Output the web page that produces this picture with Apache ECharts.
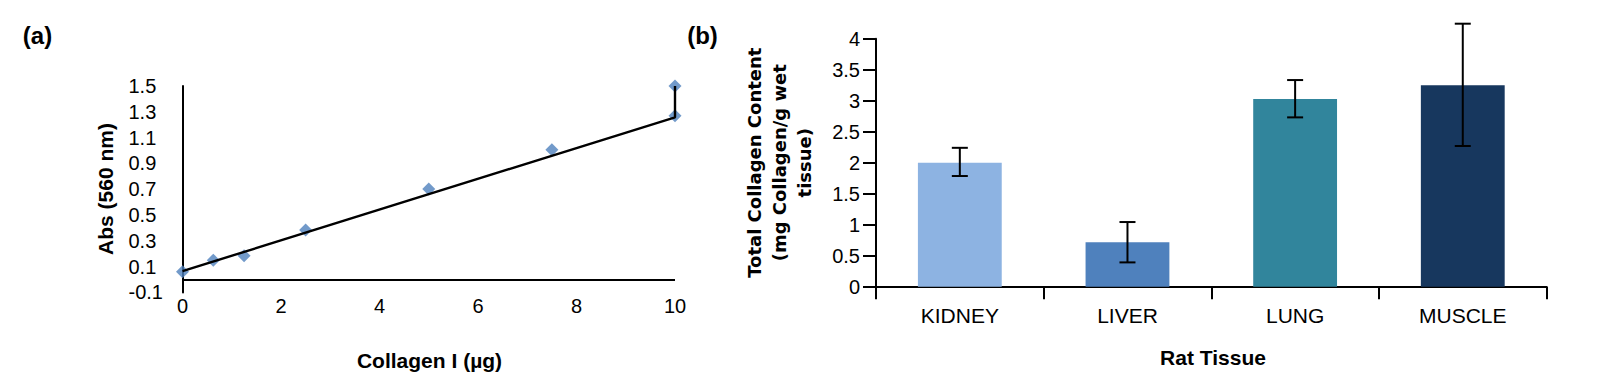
<!DOCTYPE html>
<html><head><meta charset="utf-8">
<script src="https://cdn.jsdelivr.net/npm/echarts@6/dist/echarts.min.js"></script>
<style>html,body{margin:0;padding:0;background:#fff}#c{width:1608px;height:386px}</style>
</head><body><div id="c"></div>
<script>
// ---- Panel (a): standard curve ----
const collagenUg = [0, 0.625, 1.25, 2.5, 5, 7.5, 10, 10];
const absorbance = [0.06, 0.15, 0.185, 0.384, 0.702, 1.006, 1.27, 1.5];
const trendX = [0, 10, 10];
const trendY = [0.065, 1.257, 1.5];
const absTickLabels = ['-0.1', '0.1', '0.3', '0.5', '0.7', '0.9', '1.1', '1.3', '1.5'];
const collagenTickLabels = ['0', '2', '4', '6', '8', '10'];

// ---- Panel (b): tissue collagen ----
const tissues = ['KIDNEY', 'LIVER', 'LUNG', 'MUSCLE'];
const tissueMeans = [2.0, 0.716, 3.027, 3.248];
const tissueErrLow = [1.785, 0.392, 2.731, 2.269];
const tissueErrHigh = [2.24, 1.043, 3.333, 4.242];
const tissueColors = ['#8DB3E2', '#4F81BD', '#31859C', '#17375E'];
const contentTickLabels = ['0', '0.5', '1', '1.5', '2', '2.5', '3', '3.5', '4'];

const FONT = 'Liberation Sans, Arial, sans-serif';
const chart = echarts.init(document.getElementById('c'), null, {renderer: 'svg'});

const option = {
  animation: false,
  backgroundColor: '#fff',
  grid: [
    {left: 182.5, top: 86, width: 492.5, height: 206.4},
    {left: 876, top: 38.7, width: 670.6, height: 248}
  ],
  xAxis: [
    {
      type: 'value', gridIndex: 0, min: 0, max: 10, interval: 2,
      axisLine: {show: false}, axisTick: {show: false}, splitLine: {show: false},
      axisLabel: {
        color: '#000', fontFamily: FONT, fontSize: 20, margin: 4,
        formatter: v => { const s = String(Math.round(v)); return collagenTickLabels.includes(s) ? s : ''; }
      }
    },
    {
      type: 'category', gridIndex: 1, data: tissues,
      axisLine: {show: true, lineStyle: {color: '#000', width: 2}},
      axisTick: {show: true, length: 12.5, interval: 0, lineStyle: {color: '#000', width: 2}},
      splitLine: {show: false},
      axisLabel: {color: '#000', fontFamily: FONT, fontSize: 21, margin: 18.5, interval: 0}
    }
  ],
  yAxis: [
    {
      type: 'value', gridIndex: 0, min: -0.1, max: 1.5, interval: 0.1,
      axisLine: {show: true, onZero: false, lineStyle: {color: '#000', width: 2}},
      axisTick: {show: false}, splitLine: {show: false},
      axisLabel: {
        color: '#000', fontFamily: FONT, fontSize: 20, align: 'left', margin: 54,
        formatter: v => { const s = v.toFixed(1); return absTickLabels.includes(s) ? s : ''; }
      }
    },
    {
      type: 'value', gridIndex: 1, min: 0, max: 4, interval: 0.5,
      axisLine: {show: true, lineStyle: {color: '#000', width: 2}},
      axisTick: {show: true, length: 13, lineStyle: {color: '#000', width: 2}},
      splitLine: {show: false},
      axisLabel: {
        color: '#000', fontFamily: FONT, fontSize: 20, margin: 16,
        formatter: v => { const s = String(Math.round(v * 10) / 10); return contentTickLabels.includes(s) ? s : ''; }
      }
    }
  ],
  series: [
    {
      type: 'line', xAxisIndex: 0, yAxisIndex: 0, z: 3,
      data: trendX.map((x, i) => [x, trendY[i]]),
      symbol: 'none', lineStyle: {color: '#000', width: 2.4}, silent: true
    },
    {
      type: 'scatter', xAxisIndex: 0, yAxisIndex: 0, z: 2,
      data: collagenUg.map((x, i) => [x, absorbance[i]]),
      symbol: 'diamond', symbolSize: 13,
      itemStyle: {color: '#4F81BD'},
      markLine: {
        silent: true, symbol: ['none', 'none'], label: {show: false},
        lineStyle: {color: '#000', width: 2, type: 'solid'},
        data: [{yAxis: 0}]
      }
    },
    {
      type: 'bar', xAxisIndex: 1, yAxisIndex: 1, barCategoryGap: '50%',
      data: tissueMeans.map((v, i) => ({value: v, itemStyle: {color: tissueColors[i]}}))
    },
    {
      type: 'custom', xAxisIndex: 1, yAxisIndex: 1, z: 5,
      data: tissues.map((t, i) => [i, tissueErrLow[i], tissueErrHigh[i]]),
      encode: {x: 0, y: [1, 2]},
      renderItem: function (params, api) {
        const i = api.value(0);
        const lo = api.coord([i, api.value(1)]);
        const hi = api.coord([i, api.value(2)]);
        const hw = 8;
        const st = {stroke: '#000', lineWidth: 2};
        return {
          type: 'group',
          children: [
            {type: 'line', shape: {x1: lo[0], y1: lo[1], x2: hi[0], y2: hi[1]}, style: st},
            {type: 'line', shape: {x1: hi[0] - hw, y1: hi[1], x2: hi[0] + hw, y2: hi[1]}, style: st},
            {type: 'line', shape: {x1: lo[0] - hw, y1: lo[1], x2: lo[0] + hw, y2: lo[1]}, style: st}
          ]
        };
      }
    }
  ],
  graphic: [
    {type: 'text', x: 37.5, y: 35, style: {text: '(a)', fontFamily: FONT, fontWeight: 'bold', fontSize: 24, fill: '#000', align: 'center', verticalAlign: 'middle'}},
    {type: 'text', x: 702.5, y: 35, style: {text: '(b)', fontFamily: FONT, fontWeight: 'bold', fontSize: 24, fill: '#000', align: 'center', verticalAlign: 'middle'}},
    {type: 'text', x: 105, y: 189, rotation: Math.PI / 2, style: {text: 'Abs (560 nm)', fontFamily: FONT, fontWeight: 'bold', fontSize: 21, fill: '#000', align: 'center', verticalAlign: 'middle'}},
    {type: 'text', x: 429.5, y: 360, style: {text: 'Collagen I (µg)', fontFamily: FONT, fontWeight: 'bold', fontSize: 21, fill: '#000', align: 'center', verticalAlign: 'middle'}},
    {type: 'text', x: 1213, y: 357, style: {text: 'Rat Tissue', fontFamily: FONT, fontWeight: 'bold', fontSize: 21, fill: '#000', align: 'center', verticalAlign: 'middle'}},
    {type: 'text', x: 779, y: 162.7, rotation: Math.PI / 2, style: {text: 'Total Collagen Content\n(mg Collagen/g wet\ntissue)', fontFamily: 'DejaVu Sans, Verdana, sans-serif', fontWeight: 'bold', fontSize: 18, lineHeight: 25, fill: '#000', align: 'center', verticalAlign: 'middle'}}
  ]
};
chart.setOption(option);
</script>
</body></html>
